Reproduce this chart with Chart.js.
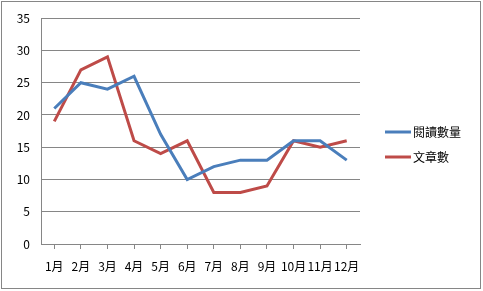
<!DOCTYPE html>
<html lang="zh-Hant">
  <head>
    <meta charset="UTF-8" />
    <script src="https://cdn.jsdelivr.net/npm/chart.js"></script>
    <title>閱讀統計</title>
    <style>
      html, body { margin: 0; padding: 0; background: #fff; }
      #wrap { width: 483px; height: 291px; position: relative; }
    </style>
  </head>
  <body>
    <div id="wrap"><canvas id="readChart"></canvas></div>

    <script>
      const months = ["1月", "2月", "3月", "4月", "5月", "6月", "7月", "8月", "9月", "10月", "11月", "12月"];
      const readCount = [21, 25, 24, 26, 17, 10, 12, 13, 13, 16, 16, 13];
      const articleCount = [19, 27, 29, 16, 14, 16, 8, 8, 9, 16, 15, 16];
      const seriesNames = ["閱讀數量", "文章數"];
      const seriesColors = ["#4A7EBB", "#BE4B48"];

      const fontFamily = "'Noto Sans CJK TC', 'Noto Sans', sans-serif";

      // outer frame + legend on the right, drawn like the Excel chart
      const frameAndLegend = {
        id: "frameAndLegend",
        beforeDraw(chart) {
          const ctx = chart.ctx;
          ctx.save();
          ctx.fillStyle = "#fff";
          ctx.fillRect(0, 0, chart.width, chart.height);
          ctx.strokeStyle = "#868686";
          ctx.lineWidth = 1;
          ctx.strokeRect(1.5, 1.5, chart.width - 4, chart.height - 4);
          ctx.restore();
        },
        afterDraw(chart) {
          const ctx = chart.ctx;
          ctx.save();
          ctx.font = "12px " + fontFamily;
          ctx.textBaseline = "middle";
          chart.data.datasets.forEach((ds, i) => {
            const y = 132 + i * 25;
            ctx.strokeStyle = ds.borderColor;
            ctx.lineWidth = 3;
            ctx.beginPath();
            ctx.moveTo(385, y);
            ctx.lineTo(411, y);
            ctx.stroke();
            ctx.fillStyle = "#000";
            ctx.fillText(ds.label, 413, y);
          });
          ctx.restore();
        },
      };

      new Chart(document.getElementById("readChart"), {
        type: "line",
        data: {
          labels: months,
          datasets: [
            {
              label: seriesNames[0],
              data: readCount,
              borderColor: seriesColors[0],
              backgroundColor: seriesColors[0],
              borderWidth: 3,
              pointRadius: 0,
              tension: 0,
            },
            {
              label: seriesNames[1],
              data: articleCount,
              borderColor: seriesColors[1],
              backgroundColor: seriesColors[1],
              borderWidth: 3,
              pointRadius: 0,
              tension: 0,
            },
          ],
        },
        options: {
          responsive: true,
          maintainAspectRatio: false,
          animation: false,
          layout: { padding: { left: 0, top: 12, right: 123, bottom: 0 } },
          scales: {
            x: {
              offset: true,
              grid: {
                display: true,
                drawOnChartArea: false,
                drawTicks: true,
                tickLength: 5,
                color: "#868686",
              },
              border: { color: "#868686" },
              ticks: {
                color: "#000",
                font: { family: fontFamily, size: 12 },
                padding: 10,
                maxRotation: 0,
                autoSkip: false,
              },
              afterFit(scale) {
                scale.height = 47;
              },
            },
            y: {
              min: 0,
              max: 35,
              ticks: {
                stepSize: 5,
                color: "#000",
                font: { family: fontFamily, size: 12 },
                padding: 11,
              },
              grid: { color: "#868686", drawTicks: false },
              border: { color: "#868686" },
              afterFit(scale) {
                scale.width = 41;
              },
            },
          },
          plugins: {
            legend: { display: false },
            tooltip: { enabled: false },
          },
        },
        plugins: [frameAndLegend],
      });
    </script>
  </body>
</html>
